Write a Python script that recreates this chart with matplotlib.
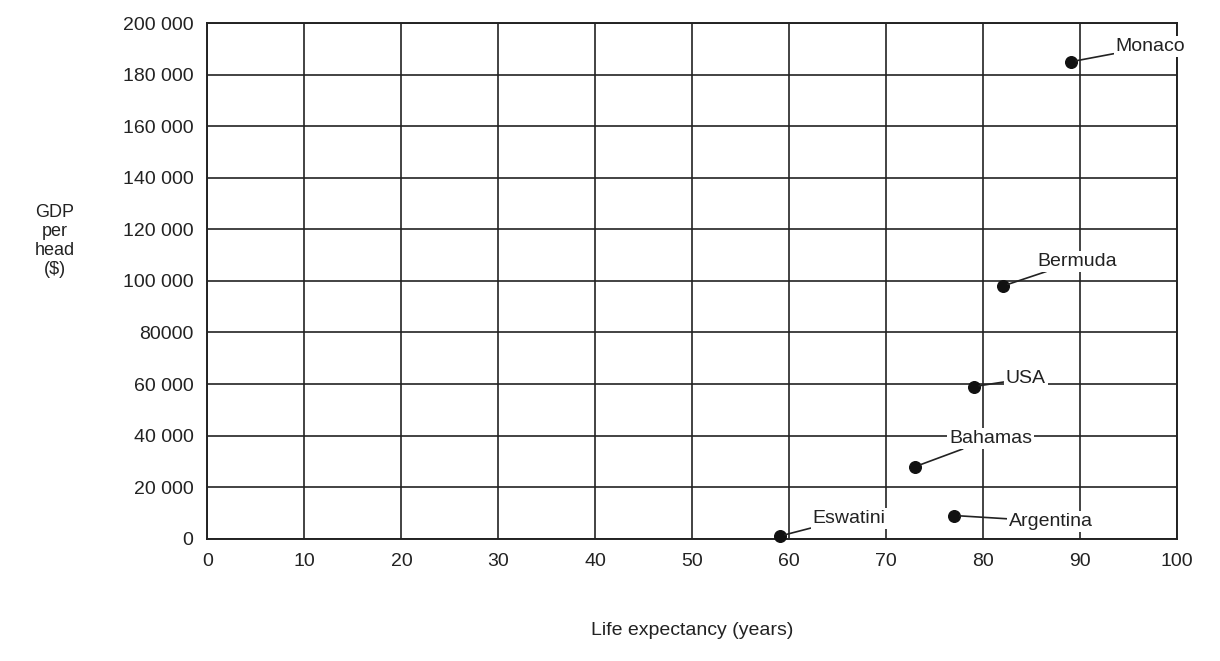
import matplotlib
matplotlib.use("Agg")
import matplotlib.pyplot as plt

plt.rcParams['font.family'] = ['Liberation Sans', 'DejaVu Sans']

countries = ["Monaco", "Bermuda", "USA", "Bahamas", "Argentina", "Eswatini"]
life_exp = [89, 82, 79, 73, 77, 59]
gdp = [185000, 98000, 59000, 28000, 9000, 1000]
label_offsets = [(45, 15), (35, 25), (32, 8), (34, 28), (55, -6), (33, 18)]

x_ticks = list(range(0, 101, 10))
y_ticks = list(range(0, 200001, 20000))
y_tick_labels = ["0", "20 000", "40 000", "60 000", "80000", "100 000",
                 "120 000", "140 000", "160 000", "180 000", "200 000"]

fig = plt.figure(figsize=(12.2, 6.61), dpi=100)
ax = fig.add_axes([0.17, 0.185, 0.795, 0.78])
ax.set_xlim(0, 100)
ax.set_ylim(0, 200000)
ax.set_xticks(x_ticks)
ax.set_yticks(y_ticks)
ax.set_yticklabels(y_tick_labels)
ax.grid(True, color="#222222", linewidth=1.2)
ax.tick_params(length=0, labelsize=14, pad=10, colors="#222222")
for s in ax.spines.values():
    s.set_color("#222222")
    s.set_linewidth(1.4)

ax.scatter(life_exp, gdp, s=70, color="#111111", zorder=3, clip_on=False)
for name, x, y, off in zip(countries, life_exp, gdp, label_offsets):
    ax.annotate(name, (x, y), xytext=off, textcoords="offset pixels",
                fontsize=14, color="#222222", va="center", ha="left",
                arrowprops=dict(arrowstyle="-", color="#222222", lw=1.2,
                                shrinkA=0, shrinkB=4),
                bbox=dict(boxstyle="square,pad=0.1", fc="white", ec="none"))

ax.set_xlabel("Life expectancy (years)", fontsize=14, color="#222222", labelpad=38)
fig.text(0.045, 0.635, "GDP\nper\nhead\n($)", fontsize=13, color="#222222",
         ha="center", va="center", linespacing=1.15)

fig.savefig("out.png", dpi=100)
